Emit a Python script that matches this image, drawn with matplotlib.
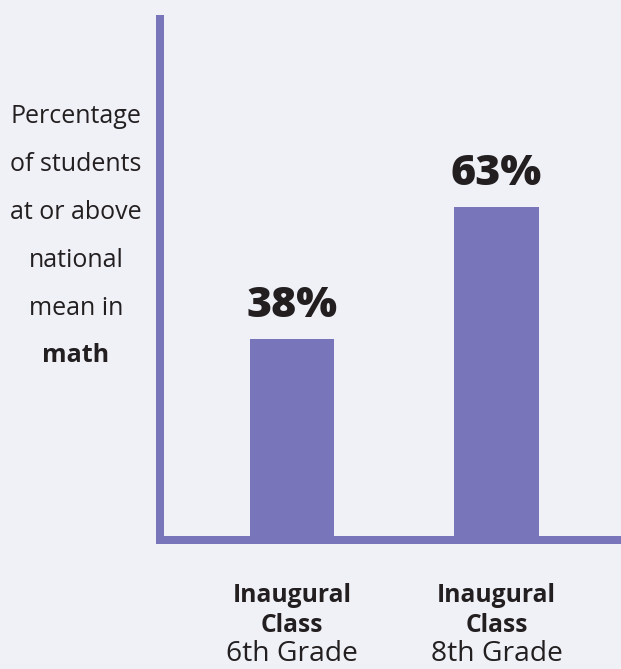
import matplotlib
matplotlib.use("Agg")
import matplotlib.pyplot as plt

categories = ["6th Grade", "8th Grade"]
category_prefix = ["Inaugural", "Class"]
values = [38, 63]
value_labels = ["38%", "63%"]
ylabel_lines = ["Percentage", "of students", "at or above", "national", "mean in", "math"]

BG = "#f0f1f7"
PURPLE = "#7875bb"
TEXT = "#231f20"
FONT = ["Open Sans", "DejaVu Sans"]
plt.rcParams["font.family"] = FONT

W, H = 621, 669
fig = plt.figure(figsize=(W / 100, H / 100), dpi=100, facecolor=BG)

ax_left, ax_right, ax_bottom, ax_top = 160, 621, 539.5, 19
ax = fig.add_axes([ax_left / W, 1 - ax_bottom / H, (ax_right - ax_left) / W, (ax_bottom - ax_top) / H])
ax.set_facecolor(BG)

x = list(range(len(categories)))
ax.bar(x, values, width=0.413, color=PURPLE, zorder=1)
ax.set_xlim(-0.645, 1.609)
ax.set_ylim(0, 98.7)

for s in ["top", "right"]:
    ax.spines[s].set_visible(False)
for s in ["left", "bottom"]:
    ax.spines[s].set_color(PURPLE)
    ax.spines[s].set_linewidth(8 * 0.72)
    ax.spines[s].set_capstyle("projecting")
ax.set_xticks([])
ax.set_yticks([])

for xi, v, lab in zip(x, values, value_labels):
    ax.annotate(lab, (xi, v), xytext=(0, 22), textcoords="offset pixels",
                ha="center", va="baseline", fontsize=31, fontweight="heavy", color=TEXT)

for xi, cat in zip(x, categories):
    ax.annotate(category_prefix[0], (xi, 0), xycoords=("data", "axes fraction"),
                xytext=(0, -62), textcoords="offset pixels", ha="center", va="baseline",
                fontsize=17.7, fontweight="bold", color=TEXT)
    ax.annotate(category_prefix[1], (xi, 0), xycoords=("data", "axes fraction"),
                xytext=(0, -92), textcoords="offset pixels", ha="center", va="baseline",
                fontsize=17.7, fontweight="bold", color=TEXT)
    ax.annotate(cat, (xi, 0), xycoords=("data", "axes fraction"),
                xytext=(0, -121.5), textcoords="offset pixels", ha="center", va="baseline",
                fontsize=20.3, color=TEXT)

baselines = [123, 171, 219, 267, 315, 362]
for i, (line, yb) in enumerate(zip(ylabel_lines, baselines)):
    fig.text(76 / W, 1 - yb / H, line, ha="center", va="baseline", fontsize=18,
             fontweight="bold" if i == len(ylabel_lines) - 1 else "normal", color=TEXT)

fig.savefig("out.png", dpi=100, facecolor=BG)
